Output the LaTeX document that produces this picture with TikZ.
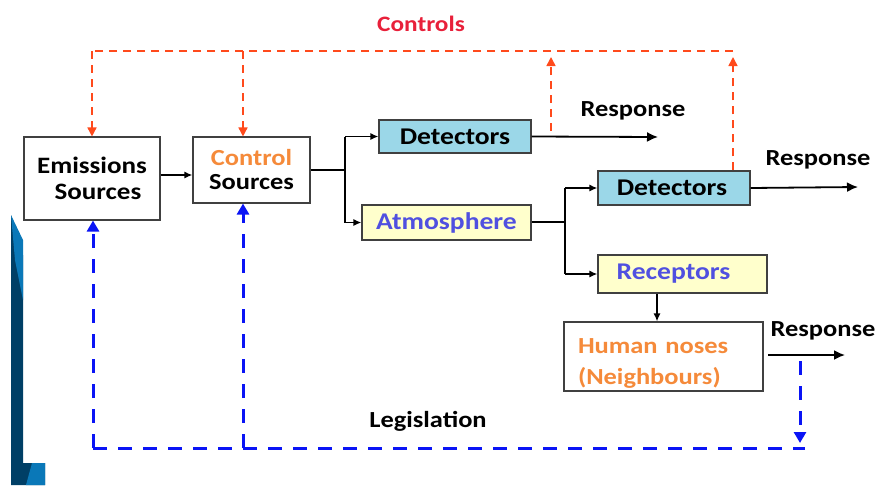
\documentclass[tikz,border=0pt]{standalone}
\usepackage{fontspec}
\setmainfont{Carlito}[FakeStretch=1.15]
\usetikzlibrary{arrows.meta}
\definecolor{detblue}{HTML}{9BD7E8}
\definecolor{atmyel}{HTML}{FFFFCC}
\definecolor{ctrlred}{HTML}{FF4A1C}
\definecolor{legblue}{HTML}{0A14F5}
\definecolor{orangetxt}{HTML}{F58A3A}
\definecolor{purpletxt}{HTML}{5050E0}
\definecolor{ttlred}{HTML}{E8203A}
\definecolor{navy}{HTML}{003F66}
\definecolor{slideblue}{HTML}{0A78B8}
\tikzset{
  box/.style={draw=black!75, line width=1.1pt, inner sep=0pt, font=\fontsize{24}{27}\selectfont\bfseries, align=center},
  txt/.style={inner sep=0pt, font=\fontsize{23}{26}\selectfont\bfseries},
  flow/.style={line width=1.5pt, -{Latex[length=8pt,width=7pt]}},
  outflow/.style={line width=1.8pt, -{Latex[length=11pt,width=10pt]}},
  plainline/.style={line width=1.5pt},
  reddash/.style={draw=ctrlred, line width=1.6pt, dash pattern=on 8pt off 6pt},
  redarrow/.style={reddash, -{Triangle[length=9pt,width=9pt]}},
  bluedash/.style={draw=legblue, line width=3pt, dash pattern=on 14pt off 11pt},
  bluearrow/.style={bluedash, -{Triangle[length=11pt,width=12pt]}},
}
\begin{document}
\begin{tikzpicture}[x=1pt,y=-1pt]
\useasboundingbox (0,0) rectangle (881,485);
% slide background remnant
\fill[navy] (11,215) -- (23,255) -- (23,463) -- (45,463) -- (45,485) -- (11,485) -- cycle;
\fill[slideblue] (11,215) -- (23,240) -- (23,300) -- (15,260) -- cycle;
\fill[slideblue] (32,463) -- (45,463) -- (45,485) -- (26,485) -- cycle;

% boxes
\node[box, fill=white, minimum width=136pt, minimum height=83pt, font=\fontsize{23.5}{27}\selectfont\bfseries] (emis) at (92,178.5)
  {Emissions\\[-1pt]\hspace*{12pt}Sources};
\node[box, fill=white, minimum width=117pt, minimum height=66pt, font=\fontsize{23}{27}\selectfont\bfseries] (ctrl) at (251.5,170)
  {\textcolor{orangetxt}{Control}\\[-3pt]Sources};
\node[box, fill=detblue, minimum width=152pt, minimum height=33pt] (det1) at (455,136.5) {Detectors};
\node[box, fill=atmyel, text=purpletxt, minimum width=169pt, minimum height=35pt] (atm) at (446.5,222.5) {Atmosphere};
\node[box, fill=detblue, minimum width=152pt, minimum height=34pt] (det2) at (674,188) {Detectors\hspace*{4pt}};
\node[box, fill=atmyel, text=purpletxt, minimum width=169pt, minimum height=38pt] (rec) at (682.5,274) {Receptors\hspace*{18pt}};
\node[box, fill=white, text=orangetxt, minimum width=199pt, minimum height=69pt, align=left,
      text width=171pt, font=\fontsize{23}{31}\selectfont\bfseries] (hum) at (663.5,356.5)
  {\raisebox{-7pt}[\height][\depth]{Human noses}\\\raisebox{-7pt}[\height][\depth]{(Neighbours)}};

% texts
\node[txt, text=ttlred, font=\fontsize{22}{24}\selectfont\bfseries] (controls) at (421,24) {Controls};
\node[txt] (resp1) at (633,111) {Response};
\node[txt] (resp2) at (818,160) {Response};
\node[txt] (resp3) at (823,331) {Response};
\node[txt] (legis) at (428,421) {Legislation};

% coordinates
\coordinate (split1) at (345,170);
\coordinate (split2) at (565,222);
\coordinate (out1) at (658,137);
\coordinate (out2) at (858,187);
\coordinate (out3s) at (768,355);
\coordinate (out3) at (845,355);
\coordinate (rtl) at (92,51);
\coordinate (rtm) at (243,51);
\coordinate (rtr) at (733,51);
\coordinate (rup1s) at (551,131);
\coordinate (rup1e) at (551,57);
\coordinate (rup2e) at (733,57);
\coordinate (bbl) at (93,448);
\coordinate (bbm) at (243,448);
\coordinate (bbr) at (805,448);
\coordinate (bds) at (800,361);
\coordinate (bde) at (800,443);

% black flow
\draw[flow] (emis.east |- 0,175) -- (ctrl.west |- 0,175);
\draw[plainline] (ctrl.east |- split1) -- (split1);
\draw[plainline] (split1 |- det1.west) -- (split1 |- atm.west);
\draw[flow] (split1 |- det1.west) -- (det1.west);
\draw[flow] (split1 |- atm.west) -- (atm.west);
\draw[outflow] (det1.east) -- (out1);
\draw[plainline] (atm.east |- split2) -- (split2);
\draw[plainline] (split2 |- det2.west) -- (split2 |- rec.west);
\draw[flow] (split2 |- det2.west) -- (det2.west);
\draw[flow] (split2 |- rec.west) -- (rec.west);
\draw[outflow] (det2.east) -- (out2);
\draw[flow] (rec.south -| 657,0) -- (hum.north -| 657,0);
\draw[outflow] (out3s) -- (out3);

% red dashed controls
\draw[reddash] (rtr) -- (rtl);
\draw[redarrow] (rtl) -- (emis.north);
\draw[redarrow] (rtm) -- (rtm |- ctrl.north);
\draw[redarrow] (rup1s) -- (rup1e);
\draw[redarrow] (det2.north -| rtr) -- (rup2e);

% blue dashed legislation
\draw[bluedash] (bbl) -- (bbr);
\draw[bluearrow] (bbl) -- (bbl |- emis.south);
\draw[bluearrow] (bbm) -- (bbm |- ctrl.south);
\draw[bluearrow] (bds) -- (bde);
\end{tikzpicture}
\end{document}
